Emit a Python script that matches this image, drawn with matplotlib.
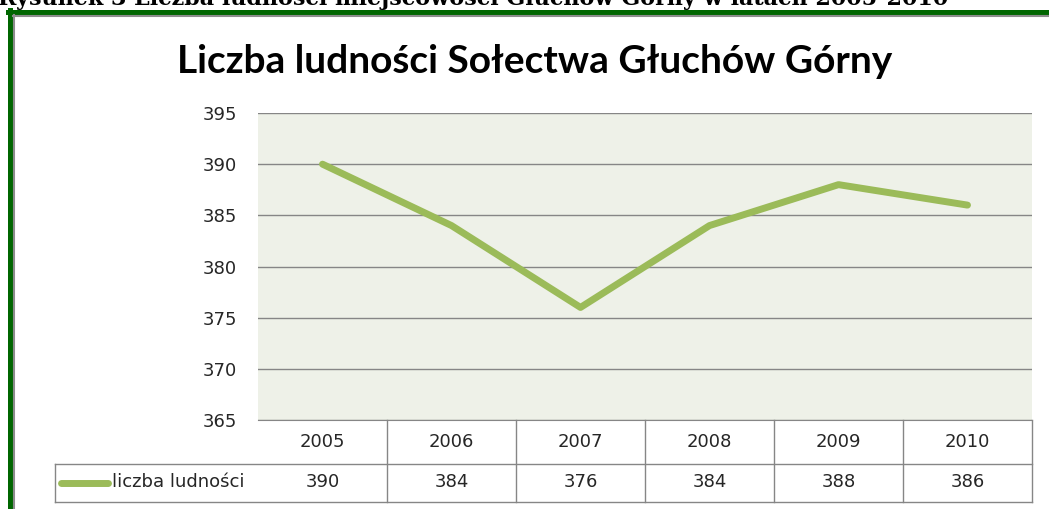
import matplotlib
matplotlib.use('Agg')
import matplotlib.pyplot as plt
from matplotlib.lines import Line2D

years = ['2005', '2006', '2007', '2008', '2009', '2010']
ludnosc = [390, 384, 376, 384, 388, 386]
series_name = 'liczba ludności'
title = 'Liczba ludności Sołectwa Głuchów Górny'
caption = 'Rysunek 3 Liczba ludności miejscowości Głuchów Górny w latach 2005-2010'
y_ticks = [365, 370, 375, 380, 385, 390, 395]

W, H = 1049, 509
GREEN = '#9BBB59'
GRID = '#868686'
TXT = '#262626'

plt.rcParams['font.family'] = ['DejaVu Sans']


def box(x0, y0, x1, y1):
    # pixel box (top-left origin) -> figure fraction rect
    return [x0 / W, 1 - y1 / H, (x1 - x0) / W, (y1 - y0) / H]


def fx(x):
    return x / W


def fy(y):
    return 1 - y / H


fig = plt.figure(figsize=(W / 100, H / 100), dpi=100)

# frame of the figure in the document
fig.add_artist(Line2D([fx(8), fx(W)], [fy(12), fy(12)], color='#006600', lw=3.6))
fig.add_artist(Line2D([fx(10), fx(10)], [fy(10), fy(H)], color='#006600', lw=3.6))
fig.add_artist(Line2D([fx(13), fx(W)], [fy(15.5), fy(15.5)], color='#8c8c8c', lw=1.5))
fig.add_artist(Line2D([fx(13.5), fx(13.5)], [fy(15), fy(H)], color='#8c8c8c', lw=1.5))

fig.text(fx(-2), fy(5), caption, family='DejaVu Serif', weight='bold',
         fontsize=16, va='baseline', ha='left', color='black')

fig.text(fx(535), fy(73), title, family=['Lato', 'DejaVu Sans'], fontsize=28,
         weight='bold', ha='center', va='baseline', color='black')

ax = fig.add_axes(box(258, 113, 1032, 420))
ax.set_facecolor('#EEF1E8')
x = list(range(len(years)))
ax.plot(x, ludnosc, color=GREEN, lw=5, solid_capstyle='round',
        solid_joinstyle='round', zorder=3)
ax.set_xlim(-0.5, len(years) - 0.5)
ax.set_ylim(365, 395)
ax.set_yticks(y_ticks)
ax.set_xticks([])
ax.grid(axis='y', color=GRID, lw=1)
ax.set_axisbelow(True)
for s in ['left', 'right', 'top']:
    ax.spines[s].set_visible(False)
ax.spines['bottom'].set_color(GRID)
ax.tick_params(axis='y', length=0, pad=15, labelsize=13, labelcolor=TXT)

# data table under the plot
ph = 420 - 113
def ay(y):
    return (420 - y) / ph

trans = ax.get_xaxis_transform()
left = -0.5 - 203 / 129
kw = dict(transform=trans, clip_on=False, color=GRID, lw=1)
ax.add_line(Line2D([left, 5.5], [ay(464), ay(464)], **kw))
ax.add_line(Line2D([left, 5.5], [ay(502), ay(502)], **kw))
ax.add_line(Line2D([left, left], [ay(464), ay(502)], **kw))
for i in range(len(years)):
    ax.add_line(Line2D([i + 0.5, i + 0.5], [ay(420), ay(502)], **kw))
    ax.text(i, ay(442), years[i], transform=trans, ha='center', va='center',
            fontsize=13, color=TXT)
    ax.text(i, ay(482), str(ludnosc[i]), transform=trans, ha='center',
            va='center', fontsize=13, color=TXT)

ax.add_line(Line2D([-0.5 - 197 / 129, -0.5 - 150 / 129], [ay(483), ay(483)],
                   transform=trans, clip_on=False, color=GREEN, lw=5,
                   solid_capstyle='round'))
ax.text(-0.5 - 146 / 129, ay(482), series_name, transform=trans, ha='left',
        va='center', fontsize=13, color=TXT)

fig.savefig('out.png', dpi=100)
